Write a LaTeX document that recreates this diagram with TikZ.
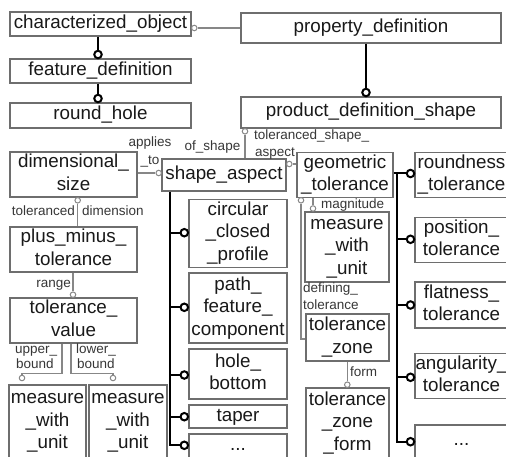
\documentclass[tikz,border=0pt]{standalone}
\usepackage{fontspec}
\setmainfont{Liberation Sans}
\definecolor{boxc}{RGB}{110,110,110}
\definecolor{linec}{RGB}{135,135,135}
\definecolor{txtc}{RGB}{25,25,25}
\definecolor{labc}{RGB}{55,55,55}
\newcommand\mainf{\fontsize{18.8}{22.5}\selectfont}
\newcommand\smallf{\fontsize{13.5}{16}\selectfont}
\begin{document}
\begin{tikzpicture}[x=1pt,y=-1pt,
  box/.style={draw=boxc, line width=1.3pt, inner sep=0pt, align=center, font=\mainf, text=txtc},
  thicklink/.style={line width=2pt, draw=black},
  thinlink/.style={line width=1.2pt, draw=linec},
  bigc/.style={circle, draw=black, line width=2pt, fill=white, inner sep=0pt, minimum size=7.5pt},
  smallc/.style={circle, draw=linec, line width=1pt, fill=white, inner sep=0pt, minimum size=5.5pt},
  lab/.style={font=\smallf, text=labc, inner sep=0pt, text height=9.5pt, text depth=2.5pt}]
\fill[white] (0,0) rectangle (506,457);
\useasboundingbox (0,0) rectangle (506,457);

% ---------- boxes ----------
\node[box,minimum width=181pt,minimum height=24pt] (co) at (100.5,24) {\strut characterized\_object};
\node[box,minimum width=181pt,minimum height=24pt] (fd) at (100.5,71) {\strut feature\_definition};
\node[box,minimum width=181pt,minimum height=25pt] (rh) at (100.5,115.5) {\strut round\_hole};
\node[box,minimum width=260pt,minimum height=30pt] (pd) at (371,28) {\strut property\_definition};
\node[box,minimum width=260pt,minimum height=31pt] (pds) at (371,112.5) {\strut product\_definition\_shape};

\node[box,minimum width=127pt,minimum height=45pt] (ds) at (73.5,174.5) {\strut dimensional\_\\\strut size};
\node[box,minimum width=127pt,minimum height=45pt] (pmt) at (73.5,249.5) {\strut plus\_minus\_\\\strut tolerance};
\node[box,minimum width=127pt,minimum height=45pt] (tv) at (73.5,320.5) {\strut tolerance\_\\\strut value};
\node[box,minimum width=77pt,minimum height=73pt] (mwua) at (47.5,421.5) {\strut measure\\\strut\_with\\\strut\_unit};
\node[box,minimum width=78pt,minimum height=73pt] (mwub) at (128,421.5) {\strut measure\\\strut\_with\\\strut\_unit};

\node[box,minimum width=124pt,minimum height=32pt] (sa) at (224,175) {\strut shape\_aspect};
\node[box,minimum width=98pt,minimum height=63pt] (ccp) at (238,233.5) {\strut circular\\\strut\_closed\\\strut\_profile};
\node[box,minimum width=98pt,minimum height=70pt] (pfc) at (238,308) {\strut path\_\\\strut feature\_\\\strut component};
\node[box,minimum width=98pt,minimum height=50pt] (hb) at (238,374) {\strut hole\_\\\strut bottom};
\node[box,minimum width=98pt,minimum height=23pt] (tp) at (238,416.5) {\strut taper};
\node[box,minimum width=98pt,minimum height=24pt] (sd) at (238,446) {\strut ...};

\node[box,minimum width=96pt,minimum height=44pt] (gt) at (345,175) {\strut geometric\\\strut\_tolerance};
\node[box,minimum width=84pt,minimum height=70pt] (mwuc) at (347,247) {\strut measure\\\strut\_with\\\strut\_unit};
\node[box,minimum width=83pt,minimum height=47pt] (tz) at (347.5,337.5) {\strut tolerance\\\strut\_zone};
\node[box,minimum width=83pt,minimum height=70pt] (tzf) at (347.5,423) {\strut tolerance\\\strut\_zone\\\strut\_form};

\node[box,minimum width=93pt,minimum height=44pt] (rt) at (461.5,175) {\strut roundness\\\strut\_tolerance};
\node[box,minimum width=93pt,minimum height=44pt] (pt) at (461.5,240) {\strut position\_\\\strut tolerance};
\node[box,minimum width=93pt,minimum height=46pt] (ft) at (461.5,305) {\strut flatness\_\\\strut tolerance};
\node[box,minimum width=93pt,minimum height=44pt] (at) at (461.5,376) {\strut angularity\_\\\strut tolerance};
\node[box,minimum width=93pt,minimum height=45pt,text height=15.75pt,text depth=20.75pt] (gd) at (461.5,447.5) {...};

% ---------- circles ----------
\node[bigc] (c1) at (98,54.5) {};
\node[bigc] (c2) at (98,98.5) {};
\node[bigc] (c3) at (366,92.5) {};
\node[bigc] (s1) at (184.3,232.7) {};
\node[bigc] (s2) at (184.3,307.3) {};
\node[bigc] (s3) at (184.3,375) {};
\node[bigc] (s4) at (184.3,416.7) {};
\node[bigc] (s5) at (184.3,445.3) {};
\node[bigc] (r1) at (410.5,173.5) {};
\node[bigc] (r2) at (410.5,239.3) {};
\node[bigc] (r3) at (410.5,305) {};
\node[bigc] (r4) at (410.5,377.3) {};
\node[bigc] (r5) at (410.5,441.7) {};

\node[smallc] (sch) at (194.3,28) {};
\node[smallc] (sof) at (245,131.3) {};
\node[smallc] (stsa) at (289.3,164) {};
\node[smallc] (sapp) at (158.7,173) {};
\node[smallc] (std) at (77.7,200.3) {};
\node[smallc] (srng) at (73,294.7) {};
\node[smallc] (sub) at (22,378) {};
\node[smallc] (slb) at (113,378) {};
\node[smallc] (smag) at (313,208.5) {};
\node[smallc] (sdef) at (301,200.3) {};
\node[smallc] (sform) at (347.3,384.7) {};

% ---------- thick links ----------
\draw[thicklink] (c1 |- co.south) -- (c1);
\draw[thicklink] (c2 |- fd.south) -- (c2);
\draw[thicklink] (c3 |- pd.south) -- (c3);
\coordinate (st) at ([xshift=8.7pt]sa.south west);
\draw[thicklink] (st) |- (s5);
\foreach \s in {s1,s2,s3,s4}{\draw[thicklink] (\s -| st) -- (\s);}
\coordinate (gtr) at ([xshift=3pt]r1 -| gt.east);
\draw[thicklink] (r1 -| gt.east) -- (r1);
\draw[thicklink] (gtr) |- (r5);
\foreach \r in {r2,r3,r4}{\draw[thicklink] (\r -| gtr) -- (\r);}

% ---------- thin links ----------
\draw[thinlink] (sch) -- (sch -| pd.west);
\draw[thinlink] (sof) -- (sof |- sa.north);
\draw[thinlink] (stsa) -- (stsa -| gt.west);
\draw[thinlink] (sapp -| ds.east) -- (sapp);
\draw[thinlink] (std) -- (std |- pmt.north);
\draw[thinlink] (srng |- pmt.south) -- (srng);
\draw[thinlink] ([xshift=-11.5pt]tv.south) -- ++(0,30) -| (sub);
\draw[thinlink] ([xshift=-2.5pt]tv.south) -- ++(0,30) -| (slb);
\draw[thinlink] (smag |- gt.south) -- (smag);
\draw[thinlink] (sdef) |- ([yshift=-1.5pt]tz.west);
\draw[thinlink] (sform |- tz.south) -- (sform);

% ---------- labels ----------
\node[lab] (lapp) at (150,143) {applies};
\node[lab] (lto) at (150,161) {\_to};
\node[lab] (lof) at (212.5,147) {of\_shape};
\node[lab,anchor=west] (ltsa) at (254,136) {toleranced\_shape\_};
\node[lab,anchor=west] (lasp) at (255,153) {aspect};
\node[lab,anchor=east] (ltol) at (75,212) {toleranced};
\node[lab,anchor=west] (ldim) at (82,212) {dimension};
\node[lab,anchor=east] (lrng) at (71,284) {range};
\node[lab,anchor=west] (lup) at (15,350) {upper\_};
\node[lab,anchor=west] (lupb) at (16,365) {bound};
\node[lab,anchor=west] (llo) at (76,350) {lower\_};
\node[lab,anchor=west] (llob) at (77,365) {bound};
\node[lab,anchor=west] (lmag) at (321,205) {magnitude};
\node[lab,anchor=west] (ldef) at (303,289) {defining\_};
\node[lab,anchor=west] (ldeft) at (303,306) {tolerance};
\node[lab,anchor=west] (lform) at (350,373) {form};
\end{tikzpicture}
\end{document}
